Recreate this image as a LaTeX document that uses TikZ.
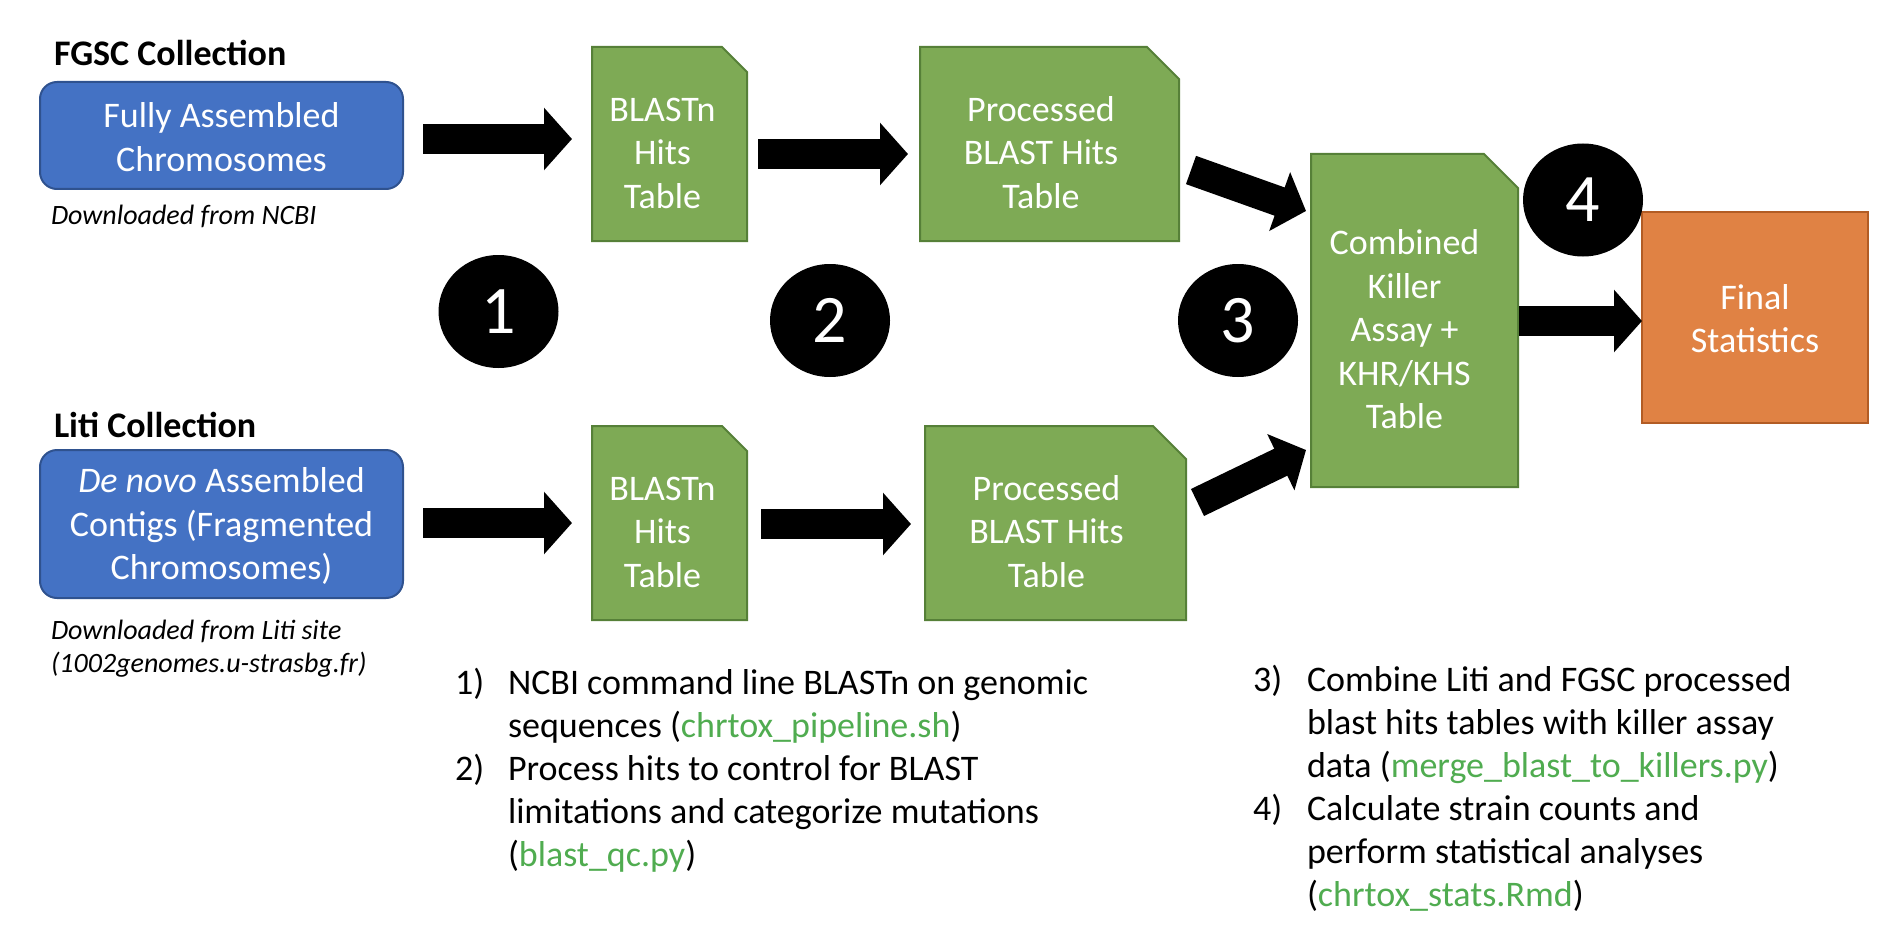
\documentclass[tikz,border=0pt]{standalone}
\usepackage{fontspec}
\setmainfont{Carlito}
\usetikzlibrary{arrows.meta,shapes.geometric,calc}
\pgfdeclarelayer{background}
\pgfsetlayers{background,main}
\definecolor{boxblue}{RGB}{68,114,196}
\definecolor{boxblueedge}{RGB}{47,82,143}
\definecolor{boxgreen}{RGB}{126,170,85}
\definecolor{boxgreenedge}{RGB}{86,128,56}
\definecolor{boxorange}{RGB}{224,130,68}
\definecolor{boxorangeedge}{RGB}{178,92,36}
\definecolor{codegreen}{RGB}{80,172,80}
\newcommand\codetxt[1]{\textcolor{codegreen}{#1}}
% text block: lift, right padding, lines
\newcommand\boxtxt[3]{\raisebox{#1}[\height][\depth]{\begin{tabular}{@{}c@{\hspace{#2}}}#3\end{tabular}}}
\newcommand\docshape[2]{\begin{pgfonlayer}{background}\path[docfill] (#1.south west) -- (#1.north west) -- ([xshift=-#2]#1.north east) -- ([yshift=-#2]#1.north east) -- (#1.south east) -- cycle;\end{pgfonlayer}}
\begin{document}
\begin{tikzpicture}[x=1pt,y=-1pt,
  every node/.style={inner sep=0pt,outer sep=0pt},
  mainfont/.style={font=\fontsize{36}{43.5}\selectfont},
  boxtext/.style={mainfont,text=white},
  srcbox/.style={boxtext,rounded corners=17pt,fill=boxblue,draw=boxblueedge,line width=2pt},
  docnode/.style={boxtext},
  docfill/.style={fill=boxgreen,draw=boxgreenedge,line width=2pt},
  resultbox/.style={boxtext,fill=boxorange,draw=boxorangeedge,line width=2pt},
  stepnum/.style={ellipse,fill=black,minimum width=120pt,minimum height=113pt,text=white,font=\fontsize{68}{80}\selectfont},
  heading/.style={anchor=base west,font=\bfseries\fontsize{36}{43.5}\selectfont},
  note/.style={anchor=base west,font=\itshape\fontsize{28}{34}\selectfont},
  listtext/.style={anchor=base west,mainfont},
  blockarrow/.style={draw=black,line width=30pt,-{Triangle[length=28pt,width=61pt]}}
]
\useasboundingbox (0,0) rectangle (1886,944);

% headings and notes
\node[heading] (fgscHead) at (54,66) {FGSC Collection};
\node[heading] (litiHead) at (54,437) {Liti Collection};
\node[note] (ncbiNote) at (51,224) {Downloaded from NCBI};
\node[note] (litiNoteA) at (51,639) {Downloaded from Liti site};
\node[note] (litiNoteB) at (51,672) {(1002genomes.u-strasbg.fr)};

% source boxes
\node[srcbox,minimum width=363pt,minimum height=107pt] (fully) at (221.5,135.5)
  {\boxtxt{-5.5pt}{0pt}{Fully Assembled\\Chromosomes}};
\node[srcbox,minimum width=363pt,minimum height=148pt] (denovo) at (221.5,524)
  {\boxtxt{-3.5pt}{0pt}{\textit{De novo} Assembled\\Contigs (Fragmented\\Chromosomes)}};

% document boxes
\node[docnode,minimum width=155pt,minimum height=194pt] (blastA) at (669.5,144)
  {\boxtxt{-12pt}{14pt}{BLASTn\\Hits\\Table}};
\node[docnode,minimum width=259pt,minimum height=194pt] (procA) at (1049.5,144)
  {\boxtxt{-12pt}{17pt}{Processed\\BLAST Hits\\Table}};
\node[docnode,minimum width=155pt,minimum height=194pt] (blastB) at (669.5,523)
  {\boxtxt{-12pt}{14pt}{BLASTn\\Hits\\Table}};
\node[docnode,minimum width=261pt,minimum height=194pt] (procB) at (1055.5,523)
  {\boxtxt{-12pt}{18pt}{Processed\\BLAST Hits\\Table}};
\node[docnode,minimum width=207pt,minimum height=333pt] (comb) at (1414.5,320.5)
  {\boxtxt{-12.5pt}{20pt}{Combined\\Killer\\Assay +\\KHR/KHS\\Table}};
\docshape{blastA}{25pt}
\docshape{procA}{32pt}
\docshape{blastB}{25pt}
\docshape{procB}{33pt}
\docshape{comb}{34pt}

% result box
\node[resultbox,minimum width=226pt,minimum height=211pt] (final) at (1755,317.5)
  {\boxtxt{-5pt}{0pt}{Final\\Statistics}};

% step numbers
\node[stepnum] (stepA) at (498.5,311.5) {1};
\node[stepnum] (stepB) at (830,320.5) {2};
\node[stepnum] (stepC) at (1238,320.5) {3};
\node[stepnum] (stepD) at (1583,200) {4};

% arrows
\draw[blockarrow] ($(fully.east)+(20,3.5)$) -- ($(fully.east -| blastA.west)+(-20,3.5)$);
\draw[blockarrow] ($(blastA.east)+(11,10)$) -- ($(procA.west)+(-12,10)$);
\draw[blockarrow] ($(denovo.east)+(20,-1)$) -- ($(denovo.east -| blastB.west)+(-20,-1)$);
\draw[blockarrow] ($(blastB.east)+(14,1)$) -- ($(procB.west)+(-14,1)$);
\draw[blockarrow] ($(procA.east)+(12,26)$) -- ($(comb.west)+(-5,-109.5)$);
\draw[blockarrow] ($(procB.east)+(11.5,-20.5)$) -- ($(comb.west)+(-5,129.5)$);
\draw[blockarrow] ($(comb.east)+(1,0.5)$) -- ($(final.west)+(0,3.5)$);

% list, left
\node[listtext] (numA) at (455,694) {1)};
\node[listtext] (lineA1) at (508,694) {NCBI command line BLASTn on genomic};
\node[listtext] (lineA2) at (508,737) {sequences (\codetxt{chrtox\_pipeline.sh})};
\node[listtext] (numB) at (455,780) {2)};
\node[listtext] (lineB1) at (508,780) {Process hits to control for BLAST};
\node[listtext] (lineB2) at (508,823) {limitations and categorize mutations};
\node[listtext] (lineB3) at (508,866) {(\codetxt{blast\_qc.py})};

% list, right
\node[listtext] (numC) at (1253,691) {3)};
\node[listtext] (lineC1) at (1307,691) {Combine Liti and FGSC processed};
\node[listtext] (lineC2) at (1307,734) {blast hits tables with killer assay};
\node[listtext] (lineC3) at (1307,777) {data (\codetxt{merge\_blast\_to\_killers.py})};
\node[listtext] (numD) at (1253,820) {4)};
\node[listtext] (lineD1) at (1307,820) {Calculate strain counts and};
\node[listtext] (lineD2) at (1307,863) {perform statistical analyses};
\node[listtext] (lineD3) at (1307,906) {(\codetxt{chrtox\_stats.Rmd})};
\end{tikzpicture}
\end{document}
